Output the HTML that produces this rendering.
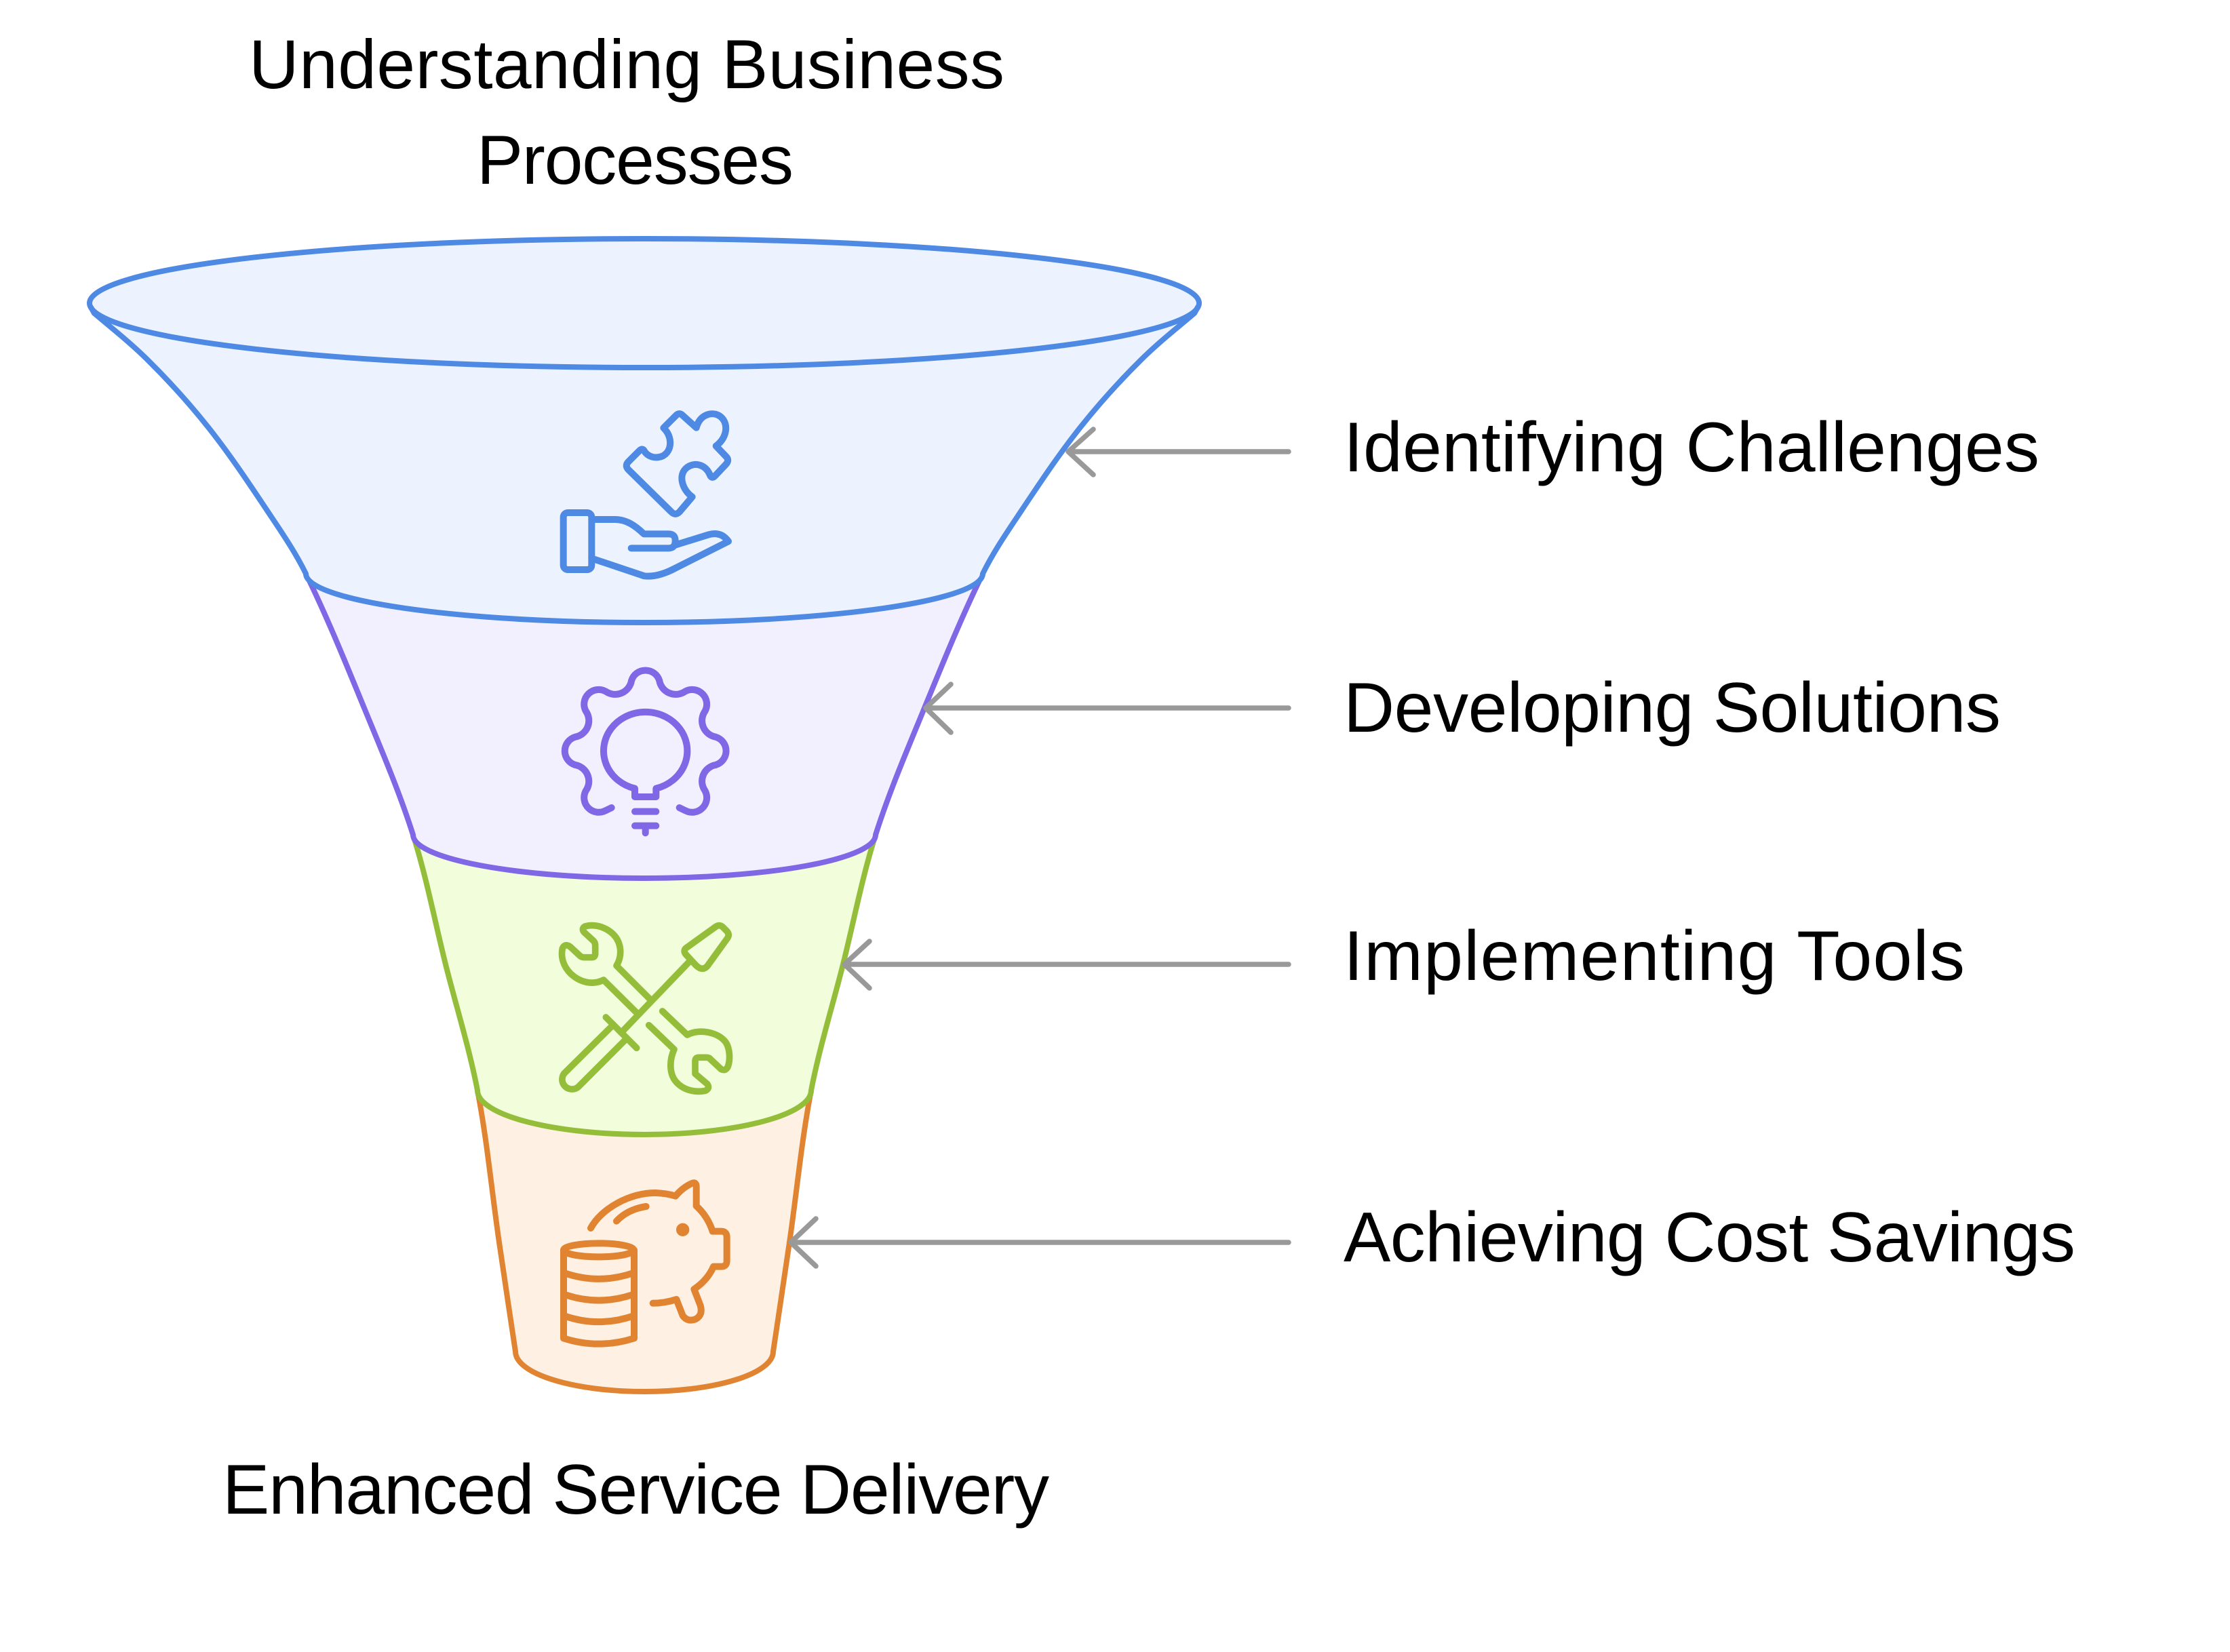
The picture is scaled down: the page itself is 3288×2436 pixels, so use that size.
<!DOCTYPE html>
<html>
<head>
<meta charset="utf-8">
<style>
html,body{margin:0;padding:0;background:#ffffff;width:3288px;height:2436px;overflow:hidden}
svg{display:block}
text{font-family:"Liberation Sans", Arial, sans-serif;fill:#000000}
</style>
</head>
<body>
<svg width="3288" height="2436" viewBox="0 0 3288 2436" xmlns="http://www.w3.org/2000/svg">
<rect x="0" y="0" width="3288" height="2436" fill="#ffffff"/>

<!-- Title -->
<text x="367" y="130" font-size="102" textLength="1114">Understanding Business</text>
<text x="703" y="271" font-size="102" textLength="467">Processes</text>

<!-- Section 4 (orange) -->
<path d="M 704 1608 C 718.3 1682 725.1 1757.4 736 1832 C 743.8 1885.8 752 1939.3 760 1993 A 190 59 0 0 0 1140 1993 C 1148 1939.3 1156.2 1885.8 1164 1832 C 1174.9 1757.4 1181.7 1682 1196 1608 Z" fill="#fef0e3"/>
<path d="M 704 1608 C 718.3 1682 725.1 1757.4 736 1832 C 743.8 1885.8 752 1939.3 760 1993 A 190 59 0 0 0 1140 1993 C 1148 1939.3 1156.2 1885.8 1164 1832 C 1174.9 1757.4 1181.7 1682 1196 1608" fill="none" stroke="#e08432" stroke-width="8" stroke-linejoin="round" stroke-linecap="round"/>

<!-- Section 3 (green) -->
<path d="M 609 1231 C 628.9 1293.6 641 1358.3 657 1422 C 672.6 1484.1 691.9 1545.2 704 1608 A 246 65 0 0 0 1196 1608 C 1208.1 1545.2 1227.4 1484.1 1243 1422 C 1259 1358.3 1271.1 1293.6 1291 1231 Z" fill="#f1fddb"/>
<path d="M 609 1231 C 628.9 1293.6 641 1358.3 657 1422 C 672.6 1484.1 691.9 1545.2 704 1608 A 246 65 0 0 0 1196 1608 C 1208.1 1545.2 1227.4 1484.1 1243 1422 C 1259 1358.3 1271.1 1293.6 1291 1231" fill="none" stroke="#94be3a" stroke-width="8" stroke-linejoin="round" stroke-linecap="round"/>

<!-- Section 2 (purple) -->
<path d="M 451 846 C 482.8 910.7 509.6 977.4 537 1044 C 562.3 1105.7 588.8 1167.4 609 1231 A 341 64 0 0 0 1291 1231 C 1311.2 1167.4 1337.7 1105.7 1363 1044 C 1390.4 977.4 1417.2 910.7 1449 846 Z" fill="#f2f0fe"/>
<path d="M 451 846 C 482.8 910.7 509.6 977.4 537 1044 C 562.3 1105.7 588.8 1167.4 609 1231 A 341 64 0 0 0 1291 1231 C 1311.2 1167.4 1337.7 1105.7 1363 1044 C 1390.4 977.4 1417.2 910.7 1449 846" fill="none" stroke="#7f67e6" stroke-width="8" stroke-linejoin="round" stroke-linecap="round"/>

<!-- Section 1 (blue) -->
<path d="M 132 447 L 139 462 C 165.7 484.7 192.1 505.4 217 530 C 249 561.6 279 594.8 307 630 C 338.3 669.4 366.1 711.1 394 753 C 414.1 783.2 435 813.4 451 846 A 499 72 0 0 0 1449 846 C 1465 813.4 1485.9 783.2 1506 753 C 1533.9 711.1 1561.7 669.4 1593 630 C 1621 594.8 1651 561.6 1683 530 C 1707.9 505.4 1734.3 484.7 1761 462 L 1768 447 A 818 95 0 0 0 132 447 Z" fill="#ecf3fe"/>
<path d="M 134 453 L 139 462 C 165.7 484.7 192.1 505.4 217 530 C 249 561.6 279 594.8 307 630 C 338.3 669.4 366.1 711.1 394 753 C 414.1 783.2 435 813.4 451 846 A 499 72 0 0 0 1449 846 C 1465 813.4 1485.9 783.2 1506 753 C 1533.9 711.1 1561.7 669.4 1593 630 C 1621 594.8 1651 561.6 1683 530 C 1707.9 505.4 1734.3 484.7 1761 462 L 1766 453" fill="none" stroke="#4e89e4" stroke-width="8" stroke-linejoin="round" stroke-linecap="round"/>
<ellipse cx="950" cy="447" rx="818" ry="95" fill="none" stroke="#4e89e4" stroke-width="8"/>

<!-- Icon 1: hand + puzzle -->
<g transform="translate(810 590) scale(0.333333)" fill="none" stroke="#4e89e4" stroke-width="30" stroke-linecap="round" stroke-linejoin="round">
  <rect x="62" y="498" width="125" height="252" rx="20"/>
  <path d="M 187 528 L 290 528 C 340 528 380 555 418 592 L 528 592 Q 557 592 557 622 Q 557 655 528 655 L 362 655"/>
  <path d="M 560 640 L 705 595 Q 760 580 792 625 L 560 742 Q 480 785 420 778 L 187 700"/>
  <path d="M 540 495 Q 557 512 575 495 L 632 428 C 590 400 565 330 610 297 C 650 270 695 290 712 335 Q 720 348 732 336 L 782 283 Q 797 265 782 250 L 737 203 C 790 165 795 95 750 68 C 715 50 665 65 650 122 L 590 68 Q 575 53 560 68 L 505 123 C 545 160 545 225 500 248 C 465 262 432 248 418 222 Q 410 212 398 224 L 350 272 Q 332 290 350 308 Z"/>
</g>

<!-- Icon 2: gear + bulb -->
<g transform="translate(810 970) scale(0.333333)" fill="none" stroke="#7f67e6" stroke-width="30" stroke-linecap="round" stroke-linejoin="round">
  <path d="M 275 663 L 248.9 675.6 A 64.6 64.6 0 0 1 161.4 588.1 A 73.3 73.3 0 0 0 114.1 473.8 A 64.6 64.6 0 0 1 114.1 350.2 A 73.3 73.3 0 0 0 161.4 235.9 A 64.6 64.6 0 0 1 248.9 148.4 A 73.3 73.3 0 0 0 363.2 101.1 A 64.6 64.6 0 0 1 486.8 101.1 A 73.3 73.3 0 0 0 601.1 148.4 A 64.6 64.6 0 0 1 688.6 235.9 A 73.3 73.3 0 0 0 735.9 350.2 A 64.6 64.6 0 0 1 735.9 473.8 A 73.3 73.3 0 0 0 688.6 588.1 A 64.6 64.6 0 0 1 601.1 675.6 L 575 663"/>
  <path d="M 378 578 A 185 172 0 1 1 472 578 L 472 615 L 378 615 Z"/>
  <path d="M 378 680 L 472 680 M 378 743 L 472 743 M 425 743 L 425 775"/>
</g>

<!-- Icon 3: wrench + screwdriver -->
<g transform="translate(810 1350) scale(0.333333)" fill="none" stroke="#94be3a" stroke-width="29" stroke-linecap="round" stroke-linejoin="round">
  <path d="M 445 370 L 297 222 C 325 175 320 110 270 72 C 235 45 190 38 158 48 Q 140 58 155 75 L 195 112 Q 203 120 203 132 L 203 168 Q 203 185 188 185 L 153 185 Q 143 185 135 178 L 92 138 Q 70 122 58 145 C 50 185 62 225 95 258 C 135 295 190 310 240 285 L 386 430"/>
  <path d="M 500 423 L 610 528 C 665 500 745 515 780 560 C 800 590 800 640 790 668 Q 780 690 760 680 L 715 638 Q 708 628 695 628 L 660 628 Q 645 628 645 645 L 645 700 L 698 745 Q 712 765 690 775 C 640 785 590 770 560 735 C 530 700 530 640 552 592 L 440 485"/>
  <path d="M 602 170 Q 590 152 610 140 L 735 50 Q 752 38 766 50 L 786 70 Q 798 84 788 100 L 700 222 Q 686 240 666 233 Q 656 228 648 220 Z"/>
  <path d="M 625 198 L 318 518"/>
  <path d="M 250 450 L 386 586"/>
  <path d="M 283 483 L 72 692 A 43 43 0 0 0 128 758 L 343 543"/>
</g>

<!-- Icon 4: piggy bank + coins -->
<g transform="translate(810 1735) scale(0.333333)" fill="none" stroke="#e08432" stroke-width="30" stroke-linecap="round" stroke-linejoin="round">
  <path d="M 183 228 C 230 140 360 70 470 72 Q 520 74 558 86 Q 590 48 630 30 Q 650 22 650 45 L 650 130 Q 700 175 722 242 L 760 242 Q 785 242 785 268 L 785 372 Q 785 398 760 398 L 726 398 Q 700 458 640 498 L 668 570 Q 680 612 648 630 Q 612 645 590 615 L 562 543 Q 510 560 458 560"/>
  <path d="M 297 197 Q 345 145 428 132"/>
  <circle cx="590" cy="235" r="14" fill="#e08432"/>
  <ellipse cx="218" cy="325" rx="155" ry="30"/>
  <path d="M 63 325 L 63 715 Q 218 765 375 715 L 375 325"/>
  <path d="M 63 425 Q 218 480 375 425 M 63 520 Q 218 575 375 520 M 63 615 Q 218 670 375 615"/>
</g>

<!-- Arrows -->
<g fill="none" stroke="#999999" stroke-width="7.5" stroke-linecap="round" stroke-linejoin="round">
  <path d="M 1900 666 L 1575 666 M 1612 633 L 1575 666 L 1612 700"/>
  <path d="M 1900 1044 L 1365 1044 M 1402 1009 L 1365 1044 L 1402 1080"/>
  <path d="M 1900 1422 L 1245 1422 M 1282 1388 L 1245 1422 L 1282 1457"/>
  <path d="M 1900 1832 L 1166 1832 M 1203 1797 L 1166 1832 L 1203 1867"/>
</g>

<!-- Labels -->
<text x="1981" y="695" font-size="104" textLength="1026">Identifying Challenges</text>
<text x="1981" y="1079" font-size="104" textLength="969">Developing Solutions</text>
<text x="1981" y="1445" font-size="104" textLength="916">Implementing Tools</text>
<text x="1981" y="1860" font-size="104" textLength="1079">Achieving Cost Savings</text>

<!-- Bottom label -->
<text x="328" y="2232" font-size="104" textLength="1219">Enhanced Service Delivery</text>
</svg>
</body>
</html>
